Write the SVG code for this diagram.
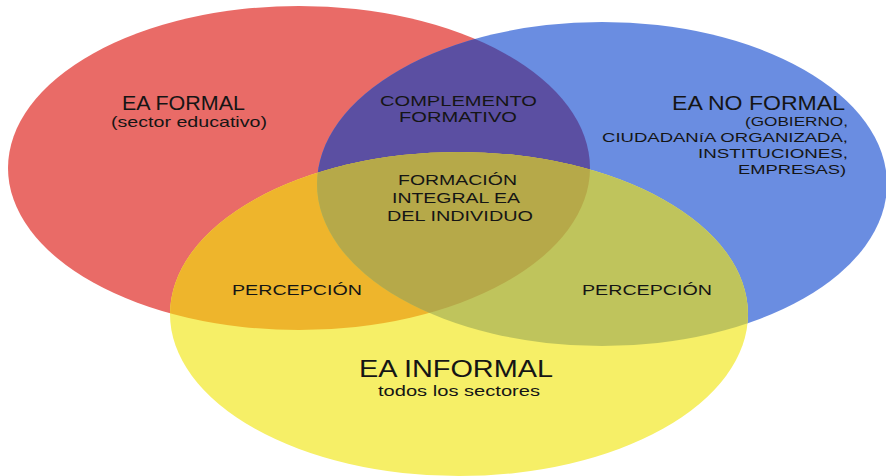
<svg xmlns="http://www.w3.org/2000/svg" width="886" height="476" viewBox="0 0 886 476">
<style>
.t{font-family:"Liberation Sans",Arial,sans-serif;fill:#151515;}
.h{font-size:20px;}
.m{font-size:15px;}
.s{font-size:13.5px;}
.b{font-size:24px;}
</style>
<defs>
<clipPath id="cR"><ellipse cx="299" cy="168" rx="291" ry="162"/></clipPath>
<clipPath id="cB"><ellipse cx="602" cy="184" rx="285" ry="162"/></clipPath>
<clipPath id="cY"><ellipse cx="459" cy="314" rx="289" ry="162"/></clipPath>
</defs>
<rect width="886" height="476" fill="#ffffff"/>
<g id="red"><ellipse cx="299" cy="168" rx="291" ry="162" fill="#E96B67"/></g>
<g id="blue"><ellipse cx="602" cy="184" rx="285" ry="162" fill="#6A8DE1"/></g>
<g id="yellow"><ellipse cx="459" cy="314" rx="289" ry="162" fill="#F6EF67"/></g>
<g id="red-blue" clip-path="url(#cR)"><ellipse cx="602" cy="184" rx="285" ry="162" fill="#5B4FA2"/></g>
<g id="red-yellow" clip-path="url(#cR)"><ellipse cx="459" cy="314" rx="289" ry="162" fill="#EEB52C"/></g>
<g id="blue-yellow" clip-path="url(#cB)"><ellipse cx="459" cy="314" rx="289" ry="162" fill="#BFC45C"/></g>
<g id="center" clip-path="url(#cR)"><g clip-path="url(#cB)"><ellipse cx="459" cy="314" rx="289" ry="162" fill="#B6A949"/></g></g>
<g id="labels-formal">
<text class="t h" x="122" y="110" textLength="123" lengthAdjust="spacingAndGlyphs">EA FORMAL</text>
<text class="t m" x="111" y="127" textLength="156" lengthAdjust="spacingAndGlyphs">(sector educativo)</text>
</g>
<g id="labels-complemento">
<text class="t m" x="380" y="106" textLength="157" lengthAdjust="spacingAndGlyphs">COMPLEMENTO</text>
<text class="t m" x="399" y="122" textLength="118" lengthAdjust="spacingAndGlyphs">FORMATIVO</text>
</g>
<g id="labels-noformal">
<text class="t h" x="672" y="110" textLength="173" lengthAdjust="spacingAndGlyphs">EA NO FORMAL</text>
<text class="t s" x="745" y="126" textLength="103" lengthAdjust="spacingAndGlyphs">(GOBIERNO,</text>
<text class="t s" x="602" y="142" textLength="246" lengthAdjust="spacingAndGlyphs">CIUDADANíA ORGANIZADA,</text>
<text class="t s" x="698" y="158" textLength="150" lengthAdjust="spacingAndGlyphs">INSTITUCIONES,</text>
<text class="t s" x="738" y="174" textLength="108" lengthAdjust="spacingAndGlyphs">EMPRESAS)</text>
</g>
<g id="labels-integral">
<text class="t m" x="398" y="185" textLength="119" lengthAdjust="spacingAndGlyphs">FORMACIÓN</text>
<text class="t m" x="392" y="203" textLength="128" lengthAdjust="spacingAndGlyphs">INTEGRAL EA</text>
<text class="t m" x="387" y="221" textLength="146" lengthAdjust="spacingAndGlyphs">DEL INDIVIDUO</text>
</g>
<g id="labels-percepcion">
<text class="t m" x="232" y="295" textLength="130" lengthAdjust="spacingAndGlyphs">PERCEPCIÓN</text>
<text class="t m" x="582" y="295" textLength="130" lengthAdjust="spacingAndGlyphs">PERCEPCIÓN</text>
</g>
<g id="labels-informal">
<text class="t b" x="359" y="377" textLength="194" lengthAdjust="spacingAndGlyphs">EA INFORMAL</text>
<text class="t m" x="378" y="396" textLength="162" lengthAdjust="spacingAndGlyphs">todos los sectores</text>
</g>
</svg>
